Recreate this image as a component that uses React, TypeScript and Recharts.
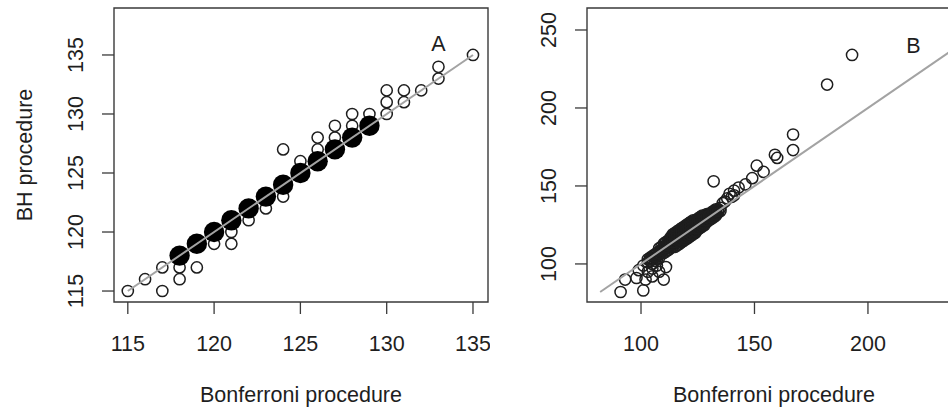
import React from 'react';
import {
  ScatterChart,
  Scatter,
  XAxis,
  YAxis,
  ReferenceArea,
  ReferenceDot,
} from 'recharts';

// Panel A: Bonferroni vs BH counts (x = Bonferroni, y = BH)
const panelAOpen: [number, number][] = [
  [115, 115], [116, 116], [117, 117], [117, 115], [118, 117], [118, 116],
  [119, 117], [120, 119], [121, 120], [121, 119], [122, 121], [123, 122],
  [124, 123], [124, 127], [125, 126], [126, 127], [126, 128], [127, 128],
  [127, 129], [128, 129], [128, 130], [129, 130], [130, 130], [130, 131],
  [130, 132], [131, 131], [131, 132], [132, 132], [133, 133], [133, 134],
  [135, 135],
];
const panelAFilled: [number, number][] = [
  [118, 118], [119, 119], [120, 120], [121, 121], [122, 122], [123, 123],
  [124, 124], [125, 125], [126, 126], [127, 127], [128, 128], [129, 129],
];
const panelALine: [number, number][] = [[115, 115], [135, 135]];
const panelATicksX = [115, 120, 125, 130, 135];
const panelATicksY = [115, 120, 125, 130, 135];

// Panel B
const panelBLow: [number, number][] = [
  [91, 82], [101, 83], [93, 90], [98, 91], [102, 90], [105, 92], [110, 90],
  [111, 98], [101, 99], [105, 97], [108, 95], [103, 95], [99, 96], [107, 99],
];
const panelBCore: [number, number][] = [
  [103, 101], [103, 103], [104, 102], [104, 104], [105, 100], [105, 103], [105, 105],
  [106, 102], [106, 104], [106, 106], [107, 103], [107, 105], [107, 107],
  [108, 104], [108, 106], [108, 108], [108, 110], [109, 107], [109, 109], [109, 111],
  [110, 107], [110, 109], [110, 111], [110, 113], [111, 108], [111, 110], [111, 112], [111, 114],
  [112, 109], [112, 111], [112, 113], [112, 115], [113, 110], [113, 112], [113, 114], [113, 116], [113, 117],
  [114, 111], [114, 113], [114, 115], [114, 117], [114, 119],
  [115, 111], [115, 113], [115, 115], [115, 117], [115, 119], [115, 120],
  [116, 112], [116, 114], [116, 116], [116, 118], [116, 120], [116, 121],
  [117, 113], [117, 115], [117, 117], [117, 119], [117, 121], [117, 122],
  [118, 114], [118, 116], [118, 118], [118, 120], [118, 122], [118, 123],
  [119, 115], [119, 117], [119, 119], [119, 121], [119, 123], [119, 124],
  [120, 116], [120, 118], [120, 120], [120, 122], [120, 124], [120, 125],
  [121, 117], [121, 119], [121, 121], [121, 123], [121, 125], [121, 126],
  [122, 118], [122, 120], [122, 122], [122, 124], [122, 126], [122, 127],
  [123, 119], [123, 121], [123, 123], [123, 125], [123, 127], [123, 128],
  [124, 120], [124, 122], [124, 124], [124, 126], [124, 128],
  [125, 122], [125, 124], [125, 126], [125, 128], [125, 129],
  [126, 123], [126, 125], [126, 127], [126, 129], [126, 130],
  [127, 124], [127, 126], [127, 128], [127, 130], [127, 131],
  [128, 125], [128, 127], [128, 129], [128, 131], [129, 127], [129, 129], [129, 131], [129, 132],
  [130, 128], [130, 130], [130, 132], [131, 129], [131, 131], [131, 133],
  [132, 130], [132, 132], [132, 134], [133, 131], [133, 133], [133, 135],
  [134, 133], [134, 135], [135, 134], [135, 136],
];
// in-between points that make the dense band read as solid black
const panelBCoreFill: [number, number][] = [
  [104, 103], [106, 105], [108, 107], [110, 110], [111, 111], [112, 112], [112, 114],
  [113, 113], [113, 115], [114, 114], [114, 116], [114, 118], [115, 114], [115, 116], [115, 118],
  [116, 115], [116, 117], [116, 119], [117, 114], [117, 116], [117, 118], [117, 120],
  [118, 115], [118, 117], [118, 119], [118, 121], [119, 116], [119, 118], [119, 120], [119, 122],
  [120, 117], [120, 119], [120, 121], [120, 123], [121, 118], [121, 120], [121, 122], [121, 124],
  [122, 119], [122, 121], [122, 123], [122, 125], [123, 120], [123, 122], [123, 124], [123, 126],
  [124, 121], [124, 123], [124, 125], [124, 127], [125, 123], [125, 125], [125, 127],
  [126, 124], [126, 126], [126, 128], [127, 125], [127, 127], [127, 129],
  [128, 126], [128, 128], [128, 130], [129, 128], [129, 130], [130, 129], [130, 131],
  [131, 130], [131, 132], [132, 131], [132, 133], [133, 132], [133, 134], [134, 134],
];
const panelBHigh: [number, number][] = [
  [136, 139], [137, 140], [138, 142], [139, 145], [140, 143], [141, 144], [141, 147],
  [143, 149], [146, 151], [149, 155], [132, 153], [151, 163], [154, 159],
  [159, 170], [160, 168], [167, 173], [167, 183], [182, 215], [193, 234],
];
const panelBLine: [number, number][] = [[82, 82], [241, 241]];
const panelBTicksX = [100, 150, 200];
const panelBTicksY = [100, 150, 200, 250];

const toPts = (arr: [number, number][]) => arr.map(([x, y]) => ({ x, y }));

const FONT = '"Liberation Sans", Arial, Helvetica, sans-serif';
const INK = '#1e1e1e';
const FRAME = '#3a3a3a';
const LINE = '#a3a3a3';
const FS = 21.5;

const openDot = (p: any) => (
  <circle cx={p.cx} cy={p.cy} r={5.6} fill="none" stroke={INK} strokeWidth={1.5} />
);
const bigDot = (p: any) => <circle cx={p.cx} cy={p.cy} r={10.2} fill="#000" />;
const noDot = () => <g />;

const XTick = (p: any) => (
  <text x={p.x} y={p.y + 37} textAnchor="middle" fontSize={FS} fill={INK} fontFamily={FONT}>
    {p.payload.value}
  </text>
);
const YTick = (p: any) => (
  <text
    x={p.x - 19}
    y={p.y}
    textAnchor="middle"
    fontSize={FS}
    fill={INK}
    fontFamily={FONT}
    transform={`rotate(-90, ${p.x - 19}, ${p.y})`}
  >
    {p.payload.value}
  </text>
);

const xTitle = (p: any) => {
  const vb = p.viewBox;
  return (
    <text x={vb.x + vb.width / 2} y={vb.y + 100} textAnchor="middle" fontSize={FS} fill={INK} fontFamily={FONT}>
      Bonferroni procedure
    </text>
  );
};
const yTitle = (p: any) => {
  const vb = p.viewBox;
  const cy = vb.y + vb.height / 2;
  return (
    <text x={32} y={cy} textAnchor="middle" fontSize={FS} fill={INK} fontFamily={FONT} transform={`rotate(-90, 32, ${cy})`}>
      BH procedure
    </text>
  );
};

interface PanelProps {
  width: number;
  yAxisWidth: number;
  rightMargin: number;
  xDomain: [number, number];
  yDomain: [number, number];
  xTicks: number[];
  yTicks: number[];
  showYTitle: boolean;
  tag: string;
  tagAt: [number, number];
  line: [number, number][];
  children?: React.ReactNode;
}

const Panel: React.FC<PanelProps> = ({
  width, yAxisWidth, rightMargin, xDomain, yDomain, xTicks, yTicks, showYTitle, tag, tagAt, line, children,
}) => {
  const margin = { top: 8, right: rightMargin, bottom: 0, left: 0 };
  return (
    <div style={{ position: 'relative', width, height: 408 }}>
      <div style={{ position: 'absolute', left: 0, top: 0 }}>
        <ScatterChart width={width} height={408} margin={margin}>
          <XAxis
            type="number"
            dataKey="x"
            domain={xDomain}
            ticks={xTicks}
            allowDataOverflow
            height={106}
            axisLine={false}
            tickSize={12}
            tickMargin={0}
            tickLine={{ stroke: FRAME, strokeWidth: 1.3 }}
            tick={XTick}
            label={xTitle}
          />
          <YAxis
            type="number"
            dataKey="y"
            domain={yDomain}
            ticks={yTicks}
            allowDataOverflow
            width={yAxisWidth}
            axisLine={false}
            tickSize={12}
            tickMargin={0}
            tickLine={{ stroke: FRAME, strokeWidth: 1.3 }}
            tick={YTick}
            label={showYTitle ? yTitle : undefined}
          />
          <ReferenceArea
            x1={xDomain[0]}
            x2={xDomain[1]}
            y1={yDomain[0]}
            y2={yDomain[1]}
            fill="none"
            fillOpacity={0}
            stroke={FRAME}
            strokeWidth={1.4}
            ifOverflow="visible"
          />
          {children}
          <ReferenceDot
            x={tagAt[0]}
            y={tagAt[1]}
            r={0}
            fill="none"
            stroke="none"
            label={{ value: tag, position: 'center', fontSize: FS, fill: INK, fontFamily: FONT }}
          />
        </ScatterChart>
      </div>
      {/* reference line drawn on a transparent overlay so it sits above every point */}
      <div style={{ position: 'absolute', left: 0, top: 0, pointerEvents: 'none' }}>
        <ScatterChart width={width} height={408} margin={margin}>
          <XAxis
            type="number"
            dataKey="x"
            domain={xDomain}
            ticks={xTicks}
            allowDataOverflow
            height={106}
            axisLine={false}
            tickLine={false}
            tick={false}
          />
          <YAxis
            type="number"
            dataKey="y"
            domain={yDomain}
            ticks={yTicks}
            allowDataOverflow
            width={yAxisWidth}
            axisLine={false}
            tickLine={false}
            tick={false}
          />
          <Scatter
            data={toPts(line)}
            shape={noDot}
            line={{ stroke: LINE, strokeWidth: 2 }}
            isAnimationActive={false}
          />
        </ScatterChart>
      </div>
    </div>
  );
};

export default function App() {
  return (
    <div
      style={{
        position: 'fixed',
        left: 0,
        top: 0,
        width: 948,
        height: 408,
        overflow: 'hidden',
        background: '#fff',
        fontFamily: FONT,
      }}
    >
      <div style={{ position: 'absolute', left: 0, top: 0 }}>
        <Panel
          width={490}
          yAxisWidth={114}
          rightMargin={2}
          xDomain={[114.2, 135.87]}
          yDomain={[114.07, 138.98]}
          xTicks={panelATicksX}
          yTicks={panelATicksY}
          showYTitle
          tag="A"
          tagAt={[133, 136]}
          line={panelALine}
        >
          <Scatter data={toPts(panelAOpen)} shape={openDot} isAnimationActive={false} />
          <Scatter data={toPts(panelAFilled)} shape={bigDot} isAnimationActive={false} />
        </Panel>
      </div>
      <div style={{ position: 'absolute', left: 490, top: 0 }}>
        <Panel
          width={480}
          yAxisWidth={97}
          rightMargin={9}
          xDomain={[76.2, 241]}
          yDomain={[75.6, 264.1]}
          xTicks={panelBTicksX}
          yTicks={panelBTicksY}
          showYTitle={false}
          tag="B"
          tagAt={[220, 240]}
          line={panelBLine}
        >
          <Scatter data={toPts(panelBLow)} shape={openDot} isAnimationActive={false} />
          <Scatter data={toPts(panelBCore)} shape={openDot} isAnimationActive={false} />
          <Scatter data={toPts(panelBCoreFill)} shape={openDot} isAnimationActive={false} />
          <Scatter data={toPts(panelBHigh)} shape={openDot} isAnimationActive={false} />
        </Panel>
      </div>
    </div>
  );
}
